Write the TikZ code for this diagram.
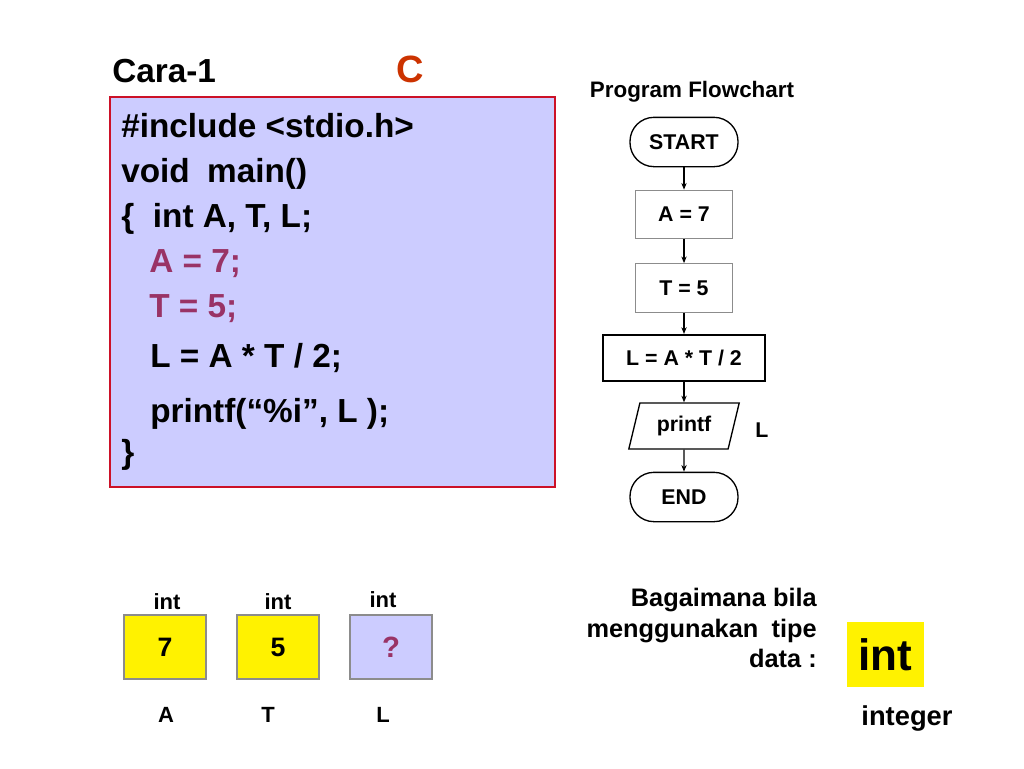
\documentclass[tikz,border=0pt]{standalone}
\usepackage{fontspec}
\setmainfont{Liberation Sans}
\usetikzlibrary{shapes.geometric,arrows.meta}
\definecolor{lav}{RGB}{204,204,255}
\definecolor{boxred}{RGB}{204,17,40}
\definecolor{codepurple}{RGB}{153,51,102}
\definecolor{cred}{RGB}{204,51,0}
\definecolor{gbord}{RGB}{140,140,140}
\begin{document}
\begin{tikzpicture}[x=0.75pt,y=-0.75pt,
  every node/.style={font=\bfseries, inner sep=0pt},
  codeline/.style={anchor=base west, font=\fontsize{25}{30}\selectfont\bfseries},
  fctext/.style={font=\fontsize{16}{19}\selectfont\bfseries},
  term/.style={fctext, draw, line width=1pt, rounded corners=18pt, minimum width=81pt, minimum height=37pt},
  procbox/.style={fctext, draw=gbord, line width=0.8pt, fill=white, minimum width=73pt, minimum height=36.5pt},
  bigproc/.style={fctext, draw, line width=1.6pt, minimum width=121pt, minimum height=34.5pt},
  iobox/.style={fctext, draw, line width=1pt, trapezium, trapezium left angle=71, trapezium right angle=109, trapezium stretches=true, minimum width=83pt, minimum height=34.5pt},
  flow/.style={-{Stealth[length=5pt,width=4pt]}, line width=0.9pt},
  varbox/.style={draw=gbord, line width=0.8pt, minimum width=61.5pt, minimum height=48pt, font=\fontsize{20}{24}\selectfont\bfseries},
  small/.style={font=\fontsize{16.5}{20}\selectfont\bfseries},
  question/.style={font=\fontsize{19}{23}\selectfont\bfseries, anchor=base east}
]
\useasboundingbox (0,0) rectangle (1024,768);
\fill[white] (0,0) rectangle (1024,768);

% title
\node[anchor=base west, font=\fontsize{25}{30}\selectfont\bfseries] (cara) at (112,82) {Cara-1};
\node[anchor=base, text=cred, font=\fontsize{28.5}{34}\selectfont\bfseries] (clang) at (410,82) {C};

% code box
\node[draw=boxred, fill=lav, line width=1.5pt, minimum width=333.75pt, minimum height=292.5pt] (code) at (332.5,292) {};
\node[codeline] (l1) at (121,137) {\#include <stdio.h>};
\node[codeline] (l2) at (121,182) {void\hspace{13pt}main()};
\node[codeline] (l3) at (121,227) {\{\hspace{14pt}int A, T, L;};
\node[codeline, text=codepurple] (l4) at (149,272) {A = 7;};
\node[codeline, text=codepurple] (l5) at (149,317) {T = 5;};
\node[codeline] (l6) at (150,367) {L = A * T / 2;};
\node[codeline] (l7) at (150,422) {printf(“\%i”, L );};
\node[codeline] (l8) at (121,463) {\}};

% flowchart
\node[anchor=base, font=\fontsize{16.8}{20}\selectfont\bfseries] (fct) at (692,97) {Program Flowchart};
\node[term] (start) at (684,142) {START};
\node[procbox] (a7) at (684,214.5) {A = 7};
\node[procbox] (t5) at (684,288) {T = 5};
\node[bigproc] (lc) at (684,358) {L = A * T / 2};
\node[iobox] (pr) at (684,426) {printf};
\node[fctext] (lout) at (762,430) {L};
\node[term] (endn) at (684,497) {END};
\draw[flow] (start) -- (a7);
\draw[flow] (a7) -- (t5);
\draw[flow] (t5) -- (lc);
\draw[flow] (lc) -- (pr);
\draw[flow] (pr) -- (endn);

% variable boxes
\node[varbox, fill=yellow] (va) at (165,647) {7};
\node[varbox, fill=yellow] (vt) at (278,647) {5};
\node[varbox, fill=lav, text=codepurple, font=\fontsize{22}{26}\selectfont\bfseries] (vl) at (391,647) {?};
\node[small, anchor=base] (ia) at (167,609) {int};
\node[small, anchor=base] (it) at (278,609) {int};
\node[small, anchor=base] (il) at (383,607) {int};
\node[small, anchor=base] (na) at (166,722) {A};
\node[small, anchor=base] (nt) at (268,722) {T};
\node[small, anchor=base] (nl) at (383,722) {L};

% question
\node[question] (q1) at (817,606) {Bagaimana bila};
\node[question] (q2) at (817,637) {menggunakan\hspace{10pt}tipe};
\node[question] (q3) at (817,667) {data :};
\node[fill=yellow, minimum width=57.75pt, minimum height=48.75pt] (intbox) at (885.5,654.5) {};
\node[anchor=base, font=\fontsize{33}{38}\selectfont\bfseries] (intw) at (885.5,670) {int};
\node[anchor=base, font=\fontsize{20.5}{24}\selectfont\bfseries] (integ) at (907,725) {integer};
\end{tikzpicture}
\end{document}
